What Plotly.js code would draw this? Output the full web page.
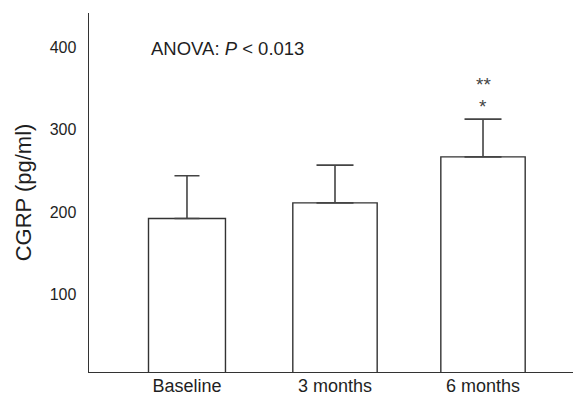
<!DOCTYPE html>
<html>
<head>
<meta charset="utf-8">
<script src="https://cdn.plot.ly/plotly-3.0.1.min.js"></script>
<style>html,body{margin:0;padding:0;background:#fff;}#chart{width:573px;height:397px;}</style>
</head>
<body>
<div id="chart"></div>
<script>
// Data
const categories = ["Baseline", "3 months", "6 months"];
const meanCGRP = [192, 211, 267];
const sdCGRP = [52, 46, 46];
const yTickValues = [100, 200, 300, 400];
const anovaText = "ANOVA: <i>P</i> &lt; 0.013";
const sigMarks = ["**", "*"];

// Styles (not data)
const barWidths = [0.52, 0.57, 0.57];
const capHalfWidths = [12.5, 18.5, 18.5];
const FONT = "Liberation Sans, Arial, Helvetica, sans-serif";

const traces = categories.map((c, i) => ({
  type: "bar",
  x: [c],
  y: [meanCGRP[i]],
  width: [barWidths[i]],
  marker: { color: "#ffffff", line: { color: "#333333", width: 1.4 } },
  error_y: {
    type: "data", symmetric: false,
    array: [sdCGRP[i]], arrayminus: [0],
    color: "#444444", thickness: 1.6, width: capHalfWidths[i]
  },
  showlegend: false,
  hoverinfo: "skip"
}));

const layout = {
  width: 573, height: 397,
  margin: { l: 89, r: 0, t: 13, b: 25 },
  paper_bgcolor: "#ffffff", plot_bgcolor: "#ffffff",
  barmode: "overlay",
  font: { family: FONT, color: "#1f1f1f" },
  xaxis: {
    type: "category",
    range: [-0.662, 2.608],
    showgrid: false, zeroline: false,
    showline: true, linecolor: "#333333", linewidth: 1.4,
    ticks: "", ticklabelstandoff: -3,
    tickfont: { size: 18, family: FONT, color: "#1f1f1f" },
    automargin: false, fixedrange: true
  },
  yaxis: {
    range: [5, 442.3],
    tickvals: yTickValues,
    showgrid: false, zeroline: false,
    showline: true, linecolor: "#333333", linewidth: 1.4,
    ticks: "", ticklabelstandoff: 8,
    tickfont: { size: 16, family: FONT, color: "#1f1f1f" },
    title: { text: "CGRP (pg/ml)", font: { size: 22, family: FONT, color: "#1f1f1f" }, standoff: 12 },
    automargin: false, fixedrange: true
  },
  annotations: [
    {
      xref: "paper", yref: "paper", x: 0.1246, y: 0.9017,
      xanchor: "left", yanchor: "middle", showarrow: false,
      text: anovaText, font: { size: 18.5, family: FONT, color: "#1f1f1f" }
    },
    {
      xref: "x", yref: "y", x: categories[2], y: 355,
      xanchor: "center", yanchor: "middle", showarrow: false,
      text: sigMarks[0], font: { size: 19, family: FONT, color: "#444444" }
    },
    {
      xref: "x", yref: "y", x: categories[2], y: 328,
      xanchor: "center", yanchor: "middle", showarrow: false,
      text: sigMarks[1], font: { size: 19, family: FONT, color: "#444444" }
    }
  ]
};

Plotly.newPlot("chart", traces, layout, { staticPlot: true, displayModeBar: false });
</script>
</body>
</html>
